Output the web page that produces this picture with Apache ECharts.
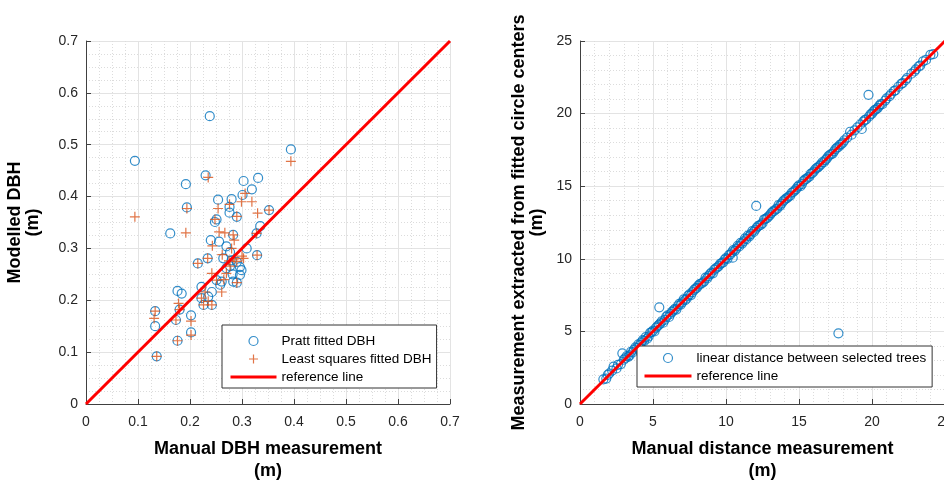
<!DOCTYPE html>
<html>
<head>
<meta charset="utf-8">
<script src="https://cdn.jsdelivr.net/npm/echarts@6/dist/echarts.min.js"></script>
<style>html,body{margin:0;padding:0;background:#fff;}#c{width:944px;height:482px;}</style>
</head>
<body>
<div id="c"></div>
<script>
// ---- Left panel: DBH (m) ----
const prattDBH = [
  [0.094,0.469],[0.238,0.555],[0.394,0.491],[0.230,0.441],[0.192,0.424],[0.303,0.430],
  [0.331,0.436],[0.319,0.414],[0.301,0.403],[0.254,0.394],[0.280,0.395],[0.194,0.379],
  [0.276,0.380],[0.276,0.369],[0.290,0.361],[0.352,0.374],[0.251,0.356],[0.248,0.351],
  [0.162,0.329],[0.283,0.326],[0.335,0.343],[0.328,0.329],[0.240,0.316],[0.256,0.313],
  [0.270,0.304],[0.309,0.300],[0.277,0.293],[0.329,0.287],[0.234,0.281],[0.215,0.271],
  [0.264,0.281],[0.280,0.277],[0.290,0.274],[0.296,0.264],[0.299,0.258],[0.296,0.249],
  [0.290,0.234],[0.251,0.239],[0.261,0.236],[0.283,0.236],[0.222,0.226],[0.242,0.216],
  [0.222,0.204],[0.235,0.207],[0.226,0.191],[0.242,0.191],[0.176,0.218],[0.184,0.213],
  [0.180,0.182],[0.133,0.179],[0.133,0.150],[0.173,0.162],[0.202,0.171],[0.202,0.138],
  [0.176,0.122],[0.136,0.092],[0.277,0.266],[0.270,0.262],[0.258,0.230],[0.282,0.250]
];
const lsqDBH = [
  [0.094,0.361],[0.394,0.468],[0.235,0.437],[0.306,0.406],[0.276,0.385],[0.299,0.390],
  [0.319,0.390],[0.194,0.377],[0.254,0.377],[0.290,0.362],[0.330,0.368],[0.352,0.374],
  [0.248,0.356],[0.192,0.330],[0.256,0.332],[0.267,0.330],[0.283,0.326],[0.328,0.329],
  [0.285,0.316],[0.303,0.281],[0.329,0.287],[0.234,0.281],[0.215,0.271],[0.285,0.280],
  [0.300,0.285],[0.270,0.252],[0.242,0.252],[0.251,0.239],[0.290,0.234],[0.265,0.240],
  [0.229,0.216],[0.261,0.216],[0.222,0.204],[0.226,0.191],[0.242,0.191],[0.235,0.198],
  [0.178,0.194],[0.180,0.182],[0.133,0.179],[0.131,0.165],[0.173,0.162],[0.202,0.160],
  [0.202,0.133],[0.176,0.122],[0.136,0.092],[0.277,0.266],[0.290,0.275],[0.275,0.276],
  [0.262,0.288],[0.280,0.300],[0.243,0.305]
];
const refLeft = [[0,0],[0.7,0.7]];

// ---- Right panel: distances (m) ----
const distPairs = [
  [1.6,1.7],[1.8,1.75],[1.9,2.0],[2.0,2.1],[2.2,2.3],[2.3,2.57],[2.5,2.45],[2.6,2.7],
  [2.8,2.75],[2.9,3.49],[3.0,3.05],[3.1,3.15],[3.2,3.3],[3.3,3.25],[3.4,3.35],[3.5,3.6],
  [3.6,3.55],[3.7,3.75],[3.8,3.9],[3.9,3.85],[4.0,4.1],[4.1,4.05],[4.2,4.25],[4.3,4.4],
  [4.4,4.35],[4.5,4.6],[4.6,4.5],[4.7,4.65],[4.8,4.9],[4.9,4.95],[5.0,5.05],[5.1,5.0],
  [5.2,5.25],[5.3,5.35],[5.4,5.45],[5.43,6.66],[5.5,5.55],[5.6,5.7],[5.7,5.6],[5.8,5.8],
  [5.9,6.0],[6.0,6.1],[6.1,6.0],[6.2,6.2],[6.3,6.35],[6.4,6.45],[6.5,6.55],[6.6,6.5],
  [6.7,6.75],[6.8,6.9],[6.9,6.85],[7.0,7.0],[7.1,7.2],[7.2,7.15],[7.3,7.25],[7.4,7.45],
  [7.5,7.55],[7.6,7.5],[7.7,7.7],[7.8,7.85],[7.9,7.95],[8.0,8.0],[8.1,8.15],[8.2,8.25],
  [8.3,8.3],[8.4,8.35],[8.5,8.45],[8.6,8.7],[8.7,8.65],[8.8,8.8],[8.9,8.95],[9.0,9.05],
  [9.1,9.0],[9.2,9.25],[9.3,9.35],[9.4,9.4],[9.5,9.5],[9.6,9.65],[9.7,9.7],[9.8,9.75],
  [9.9,9.95],[10.0,10.05],[10.1,10.0],[10.2,10.25],[10.3,10.3],[10.4,10.45],[10.46,10.08],
  [10.5,10.6],[10.6,10.55],[10.7,10.7],[10.8,10.9],[10.9,10.85],[11.0,11.1],[11.1,11.05],
  [11.2,11.2],[11.3,11.4],[11.4,11.35],[11.5,11.6],[11.6,11.55],[11.7,11.7],[11.8,11.9],
  [11.9,11.85],[12.0,12.0],[12.07,13.64],[12.1,12.15],[12.2,12.25],[12.3,12.3],[12.4,12.35],
  [12.5,12.45],[12.6,12.7],[12.7,12.75],[12.8,12.8],[12.9,12.9],[13.0,13.0],[13.1,13.15],
  [13.2,13.25],[13.3,13.3],[13.4,13.4],[13.5,13.45],[13.6,13.7],[13.7,13.65],[13.8,13.8],
  [13.9,13.95],[14.0,14.05],[14.1,14.15],[14.2,14.2],[14.3,14.3],[14.4,14.35],[14.5,14.55],
  [14.6,14.6],[14.7,14.7],[14.8,14.8],[14.9,14.95],[15.0,15.05],[15.1,15.0],[15.2,15.15],
  [15.3,15.35],[15.4,15.45],[15.5,15.5],[15.6,15.6],[15.7,15.65],[15.8,15.85],[15.9,15.9],
  [16.0,16.0],[16.1,16.15],[16.2,16.25],[16.3,16.3],[16.4,16.4],[16.5,16.5],[16.6,16.65],
  [16.7,16.65],[16.8,16.8],[16.9,16.9],[17.0,17.05],[17.1,17.15],[17.2,17.2],[17.3,17.25],
  [17.4,17.4],[17.5,17.55],[17.6,17.65],[17.7,4.87],[17.7,17.7],[17.8,17.85],[17.9,17.9],
  [18.0,18.0],[18.1,18.15],[18.3,18.35],[18.5,18.75],[18.6,18.55],[18.8,18.85],[19.0,19.05],
  [19.2,19.25],[19.3,18.94],[19.4,19.45],[19.5,19.55],[19.6,19.6],[19.76,21.29],[19.8,19.8],
  [19.9,19.95],[20.0,20.0],[20.1,20.15],[20.2,20.25],[20.3,20.3],[20.4,20.4],[20.5,20.55],
  [20.6,20.65],[20.7,20.65],[20.9,20.9],[21.0,21.05],[21.2,21.2],[21.3,21.35],[21.5,21.55],
  [21.6,21.6],[21.8,21.85],[22.0,22.05],[22.1,22.1],[22.3,22.3],[22.4,22.45],[22.7,22.75],
  [22.9,22.9],[23.0,23.05],[23.2,23.25],[23.3,23.3],[23.5,23.6],[23.7,23.7],[24.0,24.05],
  [24.2,24.1]
];
const refRight = [[0,0],[25,25]];

const leftTicks = {min:0, max:0.7, interval:0.1};
const rightTicks = {min:0, max:25, interval:5};

const BLUE = '#0072BD', ORANGE = '#D95319', RED = '#FF0000';
const FONT = 'Liberation Sans, Arial, Helvetica, sans-serif';
const PLUS = 'path://M0,5L10,5M5,0L5,10';

function xAxisCfg(gi, ticks, name, minorN) {
  return {
    type:'value', gridIndex:gi, min:ticks.min, max:ticks.max, interval:ticks.interval,
    name:name, nameLocation:'middle', nameGap:34, nameMoveOverlap:false,
    nameTextStyle:{fontFamily:FONT, fontSize:18, fontWeight:'bold', color:'#000', lineHeight:22},
    axisLine:{show:true, onZero:false, lineStyle:{color:'#404040', width:1}},
    axisTick:{show:true, inside:true, length:5, lineStyle:{color:'#404040'}},
    axisLabel:{fontFamily:FONT, fontSize:14, color:'#262626', margin:11},
    splitLine:{show:true, lineStyle:{color:'#e3e3e3', width:1}},
    minorTick:{show:false, splitNumber:minorN},
    minorSplitLine:{show:true, lineStyle:{color:'#dcdcdc', width:1, type:[1,2]}}
  };
}
function yAxisCfg(gi, ticks, name, minorN, gap) {
  return {
    type:'value', gridIndex:gi, min:ticks.min, max:ticks.max, interval:ticks.interval,
    name:name, nameLocation:'middle', nameGap:gap, nameRotate:90, nameMoveOverlap:false,
    nameTextStyle:{fontFamily:FONT, fontSize:18, fontWeight:'bold', color:'#000', lineHeight:18},
    axisLine:{show:true, onZero:false, lineStyle:{color:'#404040', width:1}},
    axisTick:{show:true, inside:true, length:5, lineStyle:{color:'#404040'}},
    axisLabel:{fontFamily:FONT, fontSize:14, color:'#262626', margin:8},
    splitLine:{show:true, lineStyle:{color:'#e3e3e3', width:1}},
    minorTick:{show:false, splitNumber:minorN},
    minorSplitLine:{show:true, lineStyle:{color:'#dcdcdc', width:1, type:[1,2]}}
  };
}

const circleStyle = {color:'rgba(0,0,0,0)', borderColor:BLUE, borderWidth:1.2};
const plusStyle = {color:'rgba(0,0,0,0)', borderColor:ORANGE, borderWidth:1.2};
const noSymbol = {color:'rgba(0,0,0,0)', borderColor:'rgba(0,0,0,0)', borderWidth:0};

const chart = echarts.init(document.getElementById('c'), null, {renderer:'canvas'});
chart.setOption({
  animation:false,
  backgroundColor:'#fff',
  grid:[
    {left:86, top:41, width:364, height:363, outerBoundsMode:'none', containLabel:false},
    {left:580, top:41, width:365, height:363, outerBoundsMode:'none', containLabel:false}
  ],
  xAxis:[
    xAxisCfg(0, leftTicks, 'Manual DBH measurement\n(m)', 4),
    xAxisCfg(1, rightTicks, 'Manual distance measurement\n(m)', 5)
  ],
  yAxis:[
    yAxisCfg(0, leftTicks, 'Modelled DBH\n(m)', 4, 43.5),
    yAxisCfg(1, rightTicks, 'Measurement extracted from fitted circle centers\n(m)', 5, 33.5)
  ],
  legend:[
    {
      left:222, top:325, orient:'vertical', selectedMode:false,
      itemWidth:46, itemHeight:9, itemGap:4, padding:[9,5,4,7],
      backgroundColor:'#fff', borderColor:'#333', borderWidth:1, borderRadius:0,
      textStyle:{fontFamily:FONT, fontSize:13.5, color:'#000'},
      data:[
        {name:'Pratt fitted DBH', icon:'circle', itemStyle:circleStyle},
        {name:'Least squares fitted DBH', icon:PLUS, itemStyle:plusStyle},
        {name:'reference line', lineStyle:{color:RED, width:3}, itemStyle:noSymbol}
      ]
    },
    {
      left:637, top:346, orient:'vertical', selectedMode:false,
      itemWidth:47, itemHeight:9, itemGap:4, padding:[5,6,4,6],
      backgroundColor:'#fff', borderColor:'#333', borderWidth:1, borderRadius:0,
      textStyle:{fontFamily:FONT, fontSize:13.5, color:'#000'},
      data:[
        {name:'linear distance between selected trees', icon:'circle', itemStyle:circleStyle},
        {name:'reference line ', lineStyle:{color:RED, width:3}, itemStyle:noSymbol}
      ]
    }
  ],
  series:[
    {name:'Pratt fitted DBH', type:'scatter', xAxisIndex:0, yAxisIndex:0, data:prattDBH,
      symbol:'circle', symbolSize:9, itemStyle:circleStyle, emphasis:{disabled:true}, z:2},
    {name:'Least squares fitted DBH', type:'scatter', xAxisIndex:0, yAxisIndex:0, data:lsqDBH,
      symbol:PLUS, symbolSize:10, itemStyle:plusStyle, emphasis:{disabled:true}, z:3},
    {name:'reference line', type:'line', xAxisIndex:0, yAxisIndex:0, data:refLeft,
      symbol:'none', lineStyle:{color:RED, width:3}, itemStyle:{color:RED}, z:4, silent:true},
    {name:'linear distance between selected trees', type:'scatter', xAxisIndex:1, yAxisIndex:1, data:distPairs,
      symbol:'circle', symbolSize:9, itemStyle:circleStyle, emphasis:{disabled:true}, z:2},
    {name:'reference line ', type:'line', xAxisIndex:1, yAxisIndex:1, data:refRight,
      symbol:'none', lineStyle:{color:RED, width:3}, itemStyle:{color:RED}, z:4, silent:true}
  ]
});
</script>
</body>
</html>
